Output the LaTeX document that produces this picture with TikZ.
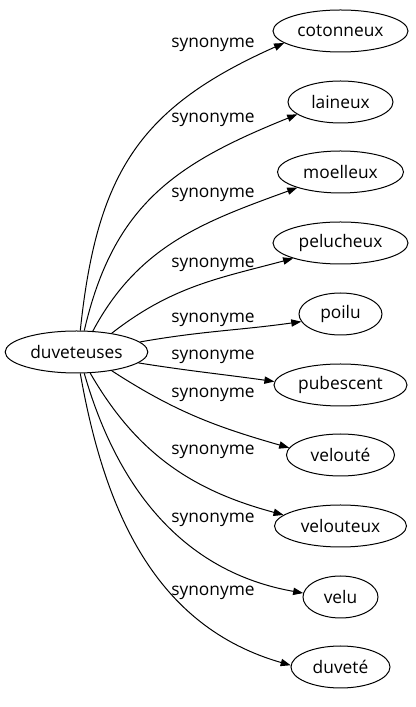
\documentclass[tikz,border=0pt]{standalone}
\usepackage{fontspec}
\setmainfont{Open Sans}
\usetikzlibrary{arrows.meta,shapes.geometric}

\begin{document}
\begin{tikzpicture}[x=0.75pt,y=0.75pt,>={Triangle[length=7.5pt,width=5.5pt]},
  word/.style={draw,ellipse,line width=0.75pt,inner xsep=0pt,inner ysep=0pt,
    minimum height=31.5pt,font=\fontsize{13}{15}\selectfont},
  rel/.style={->,line width=0.75pt},
  tag/.style={font=\fontsize{13}{15}\selectfont}]
\useasboundingbox (0,0) rectangle (415,707);
\node[word,minimum width=107pt] (src) at (76.5,355) {duveteuses};
% targets, edges and their labels
\foreach \n/\w/\y/\wid/\ly/\a/\o/\e/\i/\l in {
  cot/cotonneux/676/135/662/80/84/192/204/1.15,
  lai/laineux/605/105/587/70/77/196/202/1.1,
  moe/moelleux/535/126/512/52/62/200/200/1,
  pel/pelucheux/464/135/442/28/38/198/195/1,
  poi/poilu/393/83/387/9/10/191/188/1,
  pub/pubescent/322/133/350/-10/-9/177/172/1,
  vlt/velouté/252/108/312/-28/-33/172/164/1,
  vlx/velouteux/181/132/255/-57/-60/169/165/1,
  vel/velu/110/75/187/-70/-74/174/170/1,
  duv/duveté/40/99/114/-80/-80/178/164/1%
} {
  \node[word,minimum width=\wid*0.75pt] (\n) at (340.5,\y) {\w};
  \draw[rel] (src.\a) to[out=\o,in=\i,looseness=\l] (\n.\e);
  \node[tag] (t\n) at (213,\ly) {synonyme};
}
\end{tikzpicture}
\end{document}
